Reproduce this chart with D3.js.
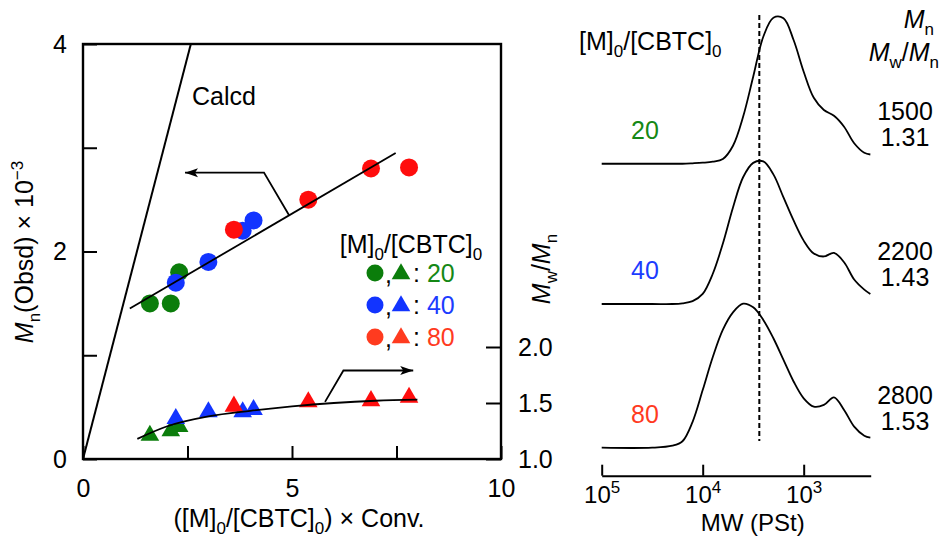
<!DOCTYPE html>
<html>
<head>
<meta charset="utf-8">
<script src="https://cdn.jsdelivr.net/npm/d3@7"></script>
<style>
  body { margin: 0; background: #fff; }
  svg text { font-family: "Liberation Sans", Arial, Helvetica, sans-serif; font-size: 25px; fill: #000; }
</style>
</head>
<body>
<svg id="chart" width="940" height="537"></svg>
<script>
// ---- left panel data: Mn and Mw/Mn vs ([M]0/[CBTC]0) x conv ----
var ratios = ["20", "40", "80"];
var colors = ["#0b7d0b", "#1234ff", "#ff0d0d"];
var labelColors = ["#158815", "#1c3cff", "#ff3b1f"];

var conv20 = [1.60, 2.10, 2.30];
var mn20 = [1.50, 1.50, 1.80];
var pdi20 = [1.21, 1.25, 1.29];
var conv40 = [2.22, 3.00, 3.82, 4.08];
var mn40 = [1.70, 1.90, 2.20, 2.30];
var pdi40 = [1.36, 1.42, 1.42, 1.44];
var conv80 = [3.61, 5.39, 6.89, 7.80];
var mn80 = [2.21, 2.50, 2.80, 2.81];
var pdi80 = [1.47, 1.51, 1.52, 1.55];

var calcdX = [0, 2.58];
var calcdY = [0, 4];
var fitMnX = [1.12, 7.48];
var fitMnY = [1.45, 2.95];
var fitPdiX = [1.3, 2, 3, 4, 5, 6, 7, 8];
var fitPdiY = [1.18, 1.29, 1.38, 1.43, 1.47, 1.50, 1.52, 1.53];

var xTicks = [0, 2.5, 5, 7.5, 10];
var yTicks = [0, 1, 2, 3, 4];
var y2Ticks = [1.0, 1.5, 2.0];

// ---- right panel data: SEC curves ----
var secLogMW = [5.0, 4.5, 4.3, 4.2, 4.1, 4.0, 3.9, 3.8, 3.7, 3.6, 3.5, 3.4, 3.3, 3.2, 3.1, 3.0, 2.9, 2.8, 2.7, 2.6, 2.5, 2.4, 2.34];
var sec20 = [0, 0, 0, 0, 0.003, 0.007, 0.014, 0.033, 0.125, 0.326, 0.604, 0.882, 1.014, 1.010, 0.859, 0.639, 0.458, 0.373, 0.333, 0.257, 0.142, 0.076, 0.064];
var sec40 = [0, 0, 0, 0.005, 0.02, 0.07, 0.21, 0.42, 0.67, 0.88, 0.98, 0.99, 0.90, 0.74, 0.58, 0.44, 0.35, 0.33, 0.355, 0.29, 0.17, 0.10, 0.07];
var sec80 = [0, 0, 0.014, 0.045, 0.18, 0.40, 0.63, 0.82, 0.94, 1.0, 0.975, 0.887, 0.76, 0.61, 0.46, 0.343, 0.285, 0.297, 0.35, 0.262, 0.146, 0.083, 0.07];
var secOffset = [1.972, 0.998, 0];
var secMn = ["1500", "2200", "2800"];
var secPdi = ["1.31", "1.43", "1.53"];
var secTicks = [1e5, 1e4, 1e3];
var secExp = ["5", "4", "3"];
var markMW = 2750;

var svg = d3.select("#chart");

// text with italic / sub / sup pieces
function rich(sel, parts) {
    var shift = 0;
    parts.forEach(function (p) {
        var target = p.sub ? 7 : (p.sup ? -10 : 0);
        var t = sel.append("tspan").text(p.t).attr("dy", target - shift);
        shift = target;
        if (p.sub || p.sup) t.style("font-size", "17px");
        if (p.i) t.attr("font-style", "italic");
        if (p.c) t.style("fill", p.c);
    });
    return sel;
}

var ratioLabel = [{ t: "[M]" }, { t: "0", sub: 1 }, { t: "/[CBTC]" }, { t: "0", sub: 1 }];

svg.append("defs").append("marker")
    .attr("id", "ah")
    .attr("viewBox", "-14 -6 16 12")
    .attr("refX", 0).attr("refY", 0)
    .attr("markerWidth", 16).attr("markerHeight", 12)
    .attr("markerUnits", "userSpaceOnUse")
    .attr("orient", "auto")
    .append("path")
    .attr("d", "M0,0L-13,-4.5L-10,0L-13,4.5Z")
    .attr("fill", "#000");

// scales
var x = d3.scaleLinear().domain([0, 10]).range([83, 501]);
var y = d3.scaleLinear().domain([0, 4]).range([459, 44]);
var y2 = d3.scaleLinear().domain([1, 1 + 415 / 112]).range([459, 44]);

// axes (ticks inward)
var gx = svg.append("g").attr("transform", "translate(0,459)")
    .call(d3.axisBottom(x).tickValues(xTicks).tickSizeInner(-13).tickSizeOuter(0).tickPadding(20)
        .tickFormat(function (d) { return d % 5 === 0 ? d : ""; }));
var gy = svg.append("g").attr("transform", "translate(83,0)")
    .call(d3.axisLeft(y).tickValues(yTicks).tickSizeInner(-14).tickSizeOuter(0).tickPadding(16)
        .tickFormat(function (d) { return d % 2 === 0 ? d : ""; }));
var gy2 = svg.append("g").attr("transform", "translate(501,0)")
    .call(d3.axisRight(y2).tickValues(y2Ticks).tickSizeInner(-15).tickSizeOuter(0).tickPadding(17)
        .tickFormat(d3.format(".1f")));
[gx, gy, gy2].forEach(function (g) {
    g.select(".domain").remove();
    g.selectAll("line").attr("stroke-width", 2);
    g.selectAll("text").style("font-size", "25px").attr("font-family", null);
});

svg.append("rect")
    .attr("x", x(0)).attr("y", y(4))
    .attr("width", x(10) - x(0)).attr("height", y(0) - y(4))
    .attr("fill", "none").attr("stroke", "#000").attr("stroke-width", 2.4);

// points
var series = [
    { conv: conv20, mn: mn20, pdi: pdi20 },
    { conv: conv40, mn: mn40, pdi: pdi40 },
    { conv: conv80, mn: mn80, pdi: pdi80 }
];
var tri = d3.symbol().type(d3.symbolTriangle).size(150);

series.forEach(function (s, k) {
    svg.append("g").selectAll("path")
        .data(s.conv)
        .enter().append("path")
        .attr("d", tri)
        .attr("transform", function (d, i) { return "translate(" + x(d) + "," + y2(s.pdi[i]) + ")"; })
        .attr("fill", colors[k]);
    svg.append("g").selectAll("circle")
        .data(s.conv)
        .enter().append("circle")
        .attr("cx", function (d) { return x(d); })
        .attr("cy", function (d, i) { return y(s.mn[i]); })
        .attr("r", 9)
        .attr("fill", colors[k]);
});

// lines
var lineXY = d3.line().x(function (d) { return x(d[0]); }).y(function (d) { return y(d[1]); });
var lineXY2 = d3.line().x(function (d) { return x(d[0]); }).y(function (d) { return y2(d[1]); });

svg.append("path").datum(d3.zip(calcdX, calcdY))
    .attr("d", lineXY).attr("fill", "none").attr("stroke", "#000").attr("stroke-width", 2);
svg.append("path").datum(d3.zip(fitMnX, fitMnY))
    .attr("d", lineXY).attr("fill", "none").attr("stroke", "#000").attr("stroke-width", 1.8);
svg.append("path").datum(d3.zip(fitPdiX, fitPdiY))
    .attr("d", lineXY2.curve(d3.curveMonotoneX)).attr("fill", "none").attr("stroke", "#000").attr("stroke-width", 1.8);

// arrows pointing to the axis each set belongs to
svg.append("path").datum([[4.93, 2.35], [4.33, 2.76], [2.44, 2.76]])
    .attr("d", d3.line().x(function (d) { return x(d[0]); }).y(function (d) { return y(d[1]); }))
    .attr("fill", "none").attr("stroke", "#000").attr("stroke-width", 1.8)
    .attr("marker-end", "url(#ah)");
svg.append("path").datum([[5.79, 1.51], [6.23, 1.79], [7.90, 1.79]])
    .attr("d", d3.line().x(function (d) { return x(d[0]); }).y(function (d) { return y2(d[1]); }))
    .attr("fill", "none").attr("stroke", "#000").attr("stroke-width", 1.8)
    .attr("marker-end", "url(#ah)");

svg.append("text").attr("x", 192).attr("y", 105).text("Calcd");

// legend
rich(svg.append("text").attr("x", 411).attr("y", 253).attr("text-anchor", "middle"), ratioLabel);
ratios.forEach(function (r, k) {
    var cy = 273 + k * 32;
    svg.append("circle").attr("cx", 375).attr("cy", cy).attr("r", 8.5).attr("fill", k === 2 ? labelColors[2] : colors[k]);
    svg.append("text").attr("x", 385).attr("y", cy + 10).text(",");
    svg.append("path").attr("d", tri).attr("transform", "translate(401," + (cy + 1) + ")")
        .attr("fill", k === 2 ? labelColors[2] : colors[k]);
    rich(svg.append("text").attr("x", 413).attr("y", cy + 9), [{ t: ": " }, { t: r, c: labelColors[k] }]);
});

// axis titles
rich(svg.append("text").attr("text-anchor", "middle").attr("x", 299).attr("y", 527),
    [{ t: "([M]" }, { t: "0", sub: 1 }, { t: "/[CBTC]" }, { t: "0", sub: 1 }, { t: ") × Conv." }]);
rich(svg.append("text").attr("text-anchor", "middle").attr("transform", "translate(33,252) rotate(-90)"),
    [{ t: "M", i: 1 }, { t: "n", sub: 1 }, { t: "(Obsd) × 10" }, { t: "−3", sup: 1 }]);
rich(svg.append("text").attr("text-anchor", "middle").attr("transform", "translate(550,269) rotate(-90)"),
    [{ t: "M", i: 1 }, { t: "w", sub: 1 }, { t: "/" }, { t: "M", i: 1 }, { t: "n", sub: 1 }]);

// ---- right panel: SEC traces ----
var secX = d3.scaleLog().domain([1e5, 217]).range([601.7, 870.7]);
var secY = d3.scaleLinear().domain([0, 1]).range([447.7, 303.7]);

var gs = svg.append("g").attr("transform", "translate(0,475.7)")
    .call(d3.axisBottom(secX).tickValues(secTicks).tickSizeInner(-11).tickSizeOuter(0).tickFormat(function () { return ""; }));
gs.select(".domain").attr("stroke-width", 2);
gs.selectAll("line").attr("stroke-width", 2);
gs.selectAll(".tick text").each(function (d, i) {
    var t = d3.select(this).attr("y", 27).attr("dy", null).style("font-size", "24px").attr("font-family", null);
    rich(t, [{ t: "10" }, { t: secExp[i], sup: 1 }]);
});
svg.append("text").attr("x", 752.7).attr("y", 531).attr("text-anchor", "middle").style("font-size", "24px").text("MW (PSt)");

svg.append("line")
    .attr("x1", secX(markMW)).attr("x2", secX(markMW))
    .attr("y1", 15).attr("y2", 441)
    .attr("stroke", "#000").attr("stroke-width", 2).attr("stroke-dasharray", "5,3");

var secLine = d3.line().curve(d3.curveCatmullRom.alpha(0.5));
[sec20, sec40, sec80].forEach(function (vals, k) {
    var off = secOffset[k];
    svg.append("path")
        .datum(d3.zip(secLogMW, vals))
        .attr("d", secLine.x(function (d) { return secX(Math.pow(10, d[0])); })
            .y(function (d) { return secY(d[1] + off); }))
        .attr("fill", "none").attr("stroke", "#000").attr("stroke-width", 1.8);
    var base = secY(off);
    svg.append("text").attr("x", 645).attr("y", base - 25).attr("text-anchor", "middle")
        .style("fill", labelColors[k]).text(ratios[k]);
    svg.append("text").attr("x", 905).attr("y", base - 44).attr("text-anchor", "middle").text(secMn[k]);
    svg.append("text").attr("x", 905).attr("y", base - 17.5).attr("text-anchor", "middle").text(secPdi[k]);
});

rich(svg.append("text").attr("x", 579).attr("y", 50), ratioLabel);
rich(svg.append("text").attr("x", 934).attr("y", 28).attr("text-anchor", "end"),
    [{ t: "M", i: 1 }, { t: "n", sub: 1 }]);
rich(svg.append("text").attr("x", 939).attr("y", 61).attr("text-anchor", "end"),
    [{ t: "M", i: 1 }, { t: "w", sub: 1 }, { t: "/" }, { t: "M", i: 1 }, { t: "n", sub: 1 }]);
</script>
</body>
</html>
